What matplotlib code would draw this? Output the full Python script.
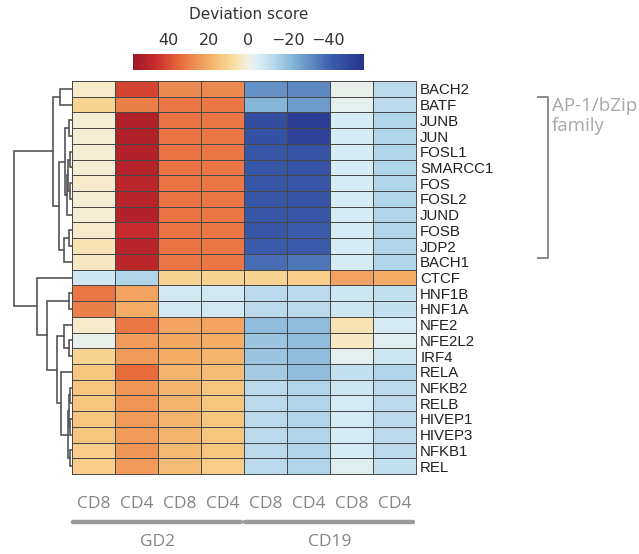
import matplotlib
matplotlib.use("Agg")
import matplotlib.pyplot as plt
import matplotlib.transforms as mtransforms
from matplotlib.colors import Normalize, LinearSegmentedColormap
from matplotlib.cm import ScalarMappable
import numpy as np

# --- data ---
rows = ["BACH2", "BATF", "JUNB", "JUN", "FOSL1", "SMARCC1", "FOS", "FOSL2",
        "JUND", "FOSB", "JDP2", "BACH1", "CTCF", "HNF1B", "HNF1A", "NFE2",
        "NFE2L2", "IRF4", "RELA", "NFKB2", "RELB", "HIVEP1", "HIVEP3",
        "NFKB1", "REL"]
cols = ["CD8", "CD4", "CD8", "CD4", "CD8", "CD4", "CD8", "CD4"]
groups = ["GD2", "CD19"]
group_span = [(0, 4), (4, 8)]

gd2_cd8_a = [3, 10, 2, 2, 2, 2, 3, 2, 2, 3, 5, 4, -8, 32, 30, 3, -2, 10, 14, 14, 14, 14, 14, 12, 12]
gd2_cd4_a = [42, 30, 53, 53, 52, 52, 50, 51, 52, 47, 51, 50, -14, 22, 20, 32, 24, 24, 34, 25, 25, 24, 24, 25, 24]
gd2_cd8_b = [28, 32, 33, 33, 33, 33, 33, 33, 33, 33, 33, 32, 10, -7, -7, 22, 21, 20, 18, 18, 18, 18, 18, 17, 16]
gd2_cd4_b = [28, 32, 32, 32, 32, 32, 32, 32, 32, 32, 32, 32, 10, -7, -7, 22, 20, 18, 16, 14, 14, 14, 14, 14, 12]
cd19_cd8_a = [-30, -22, -48, -46, -44, -44, -44, -44, -44, -44, -42, -38, 10, -12, -12, -20, -18, -18, -16, -12, -12, -12, -12, -12, -12]
cd19_cd4_a = [-32, -28, -54, -52, -45, -45, -44, -45, -44, -42, -42, -36, 12, -12, -12, -20, -20, -20, -20, -14, -14, -14, -14, -14, -14]
cd19_cd8_b = [-2, -3, -6, -6, -6, -6, -6, -6, -6, -6, -6, -6, 22, -8, -8, 5, 4, -3, -10, -8, -6, -6, -6, -6, -4]
cd19_cd4_b = [-12, -12, -14, -14, -14, -14, -14, -14, -14, -14, -14, -14, 20, -10, -10, -6, -4, -8, -14, -12, -12, -12, -12, -12, -10]

# row clustering: (node, left, right, height)
merges = [
    ("a", "BACH2", "BATF", 12), ("b", "JUNB", "JUN", 3),
    ("c", "FOSL1", "SMARCC1", 2), ("d", "FOS", "FOSL2", 2.5),
    ("e", "c", "d", 4), ("f", "e", "JUND", 5), ("g", "b", "f", 7),
    ("h", "FOSB", "JDP2", 3), ("i", "h", "BACH1", 8), ("j", "g", "i", 13),
    ("k", "a", "j", 19), ("l", "HNF1B", "HNF1A", 3), ("m", "NFE2L2", "IRF4", 3),
    ("n", "NFE2", "m", 8), ("o", "NFKB2", "RELB", 2), ("p", "HIVEP1", "HIVEP3", 2),
    ("q", "o", "p", 3), ("r", "NFKB1", "REL", 2), ("s", "q", "r", 4.5),
    ("t", "RELA", "s", 11), ("u", "n", "t", 15), ("v", "l", "u", 25),
    ("w", "CTCF", "v", 35), ("root", "k", "w", 58),
]

values = np.array([gd2_cd8_a, gd2_cd4_a, gd2_cd8_b, gd2_cd4_b,
                   cd19_cd8_a, cd19_cd4_a, cd19_cd8_b, cd19_cd4_b]).T

W, H = 639, 554
fig = plt.figure(figsize=(W / 100, H / 100), dpi=100)

def box(x0, y0, x1, y1):
    return [x0 / W, 1 - y1 / H, (x1 - x0) / W, (y1 - y0) / H]

norm = Normalize(vmin=-58, vmax=58)
cmap = LinearSegmentedColormap.from_list("dev", [
    (0.00, "#27358c"), (0.14, "#3a5cab"), (0.30, "#7fb1d6"), (0.40, "#bcdcec"),
    (0.45, "#d8ecf3"), (0.50, "#f3f2e6"), (0.57, "#f8dd9a"), (0.67, "#f4ae68"),
    (0.80, "#e66a3c"), (0.90, "#c82d2b"), (1.00, "#9e1728")])

# heatmap
ax = fig.add_axes(box(72, 81, 416, 474))
ax.pcolormesh(values, cmap=cmap, norm=norm, edgecolors="#484848", linewidth=0.7)
ax.set_xlim(0, len(cols))
ax.set_ylim(len(rows), 0)
ax.yaxis.tick_right()
ax.set_yticks(np.arange(len(rows)) + 0.5)
ax.set_yticklabels(rows, fontsize=10.8, family="Liberation Sans", color="#222222")
ax.set_xticks(np.arange(len(cols)) + 0.5)
ax.set_xticklabels(cols, fontsize=12.5, family="Open Sans", color="#858585")
ax.tick_params(length=0, pad=3, axis="y")
ax.tick_params(length=0, pad=16, axis="x")
for sp in ax.spines.values():
    sp.set_edgecolor("#484848")
    sp.set_linewidth(0.7)

# group bars under the columns
tr = mtransforms.blended_transform_factory(ax.transData, ax.transAxes)
for name, (c0, c1) in zip(groups, group_span):
    ax.plot([c0 + 0.02, c1 - 0.06], [-0.122, -0.122], transform=tr, color="#9a9a9a",
            lw=3.2, solid_capstyle="round", clip_on=False)
    ax.text((c0 + c1) / 2, -0.173, name, transform=tr, ha="center", va="center",
            fontsize=12.5, family="Open Sans", color="#858585")

# AP-1 bracket
tr2 = mtransforms.blended_transform_factory(ax.transAxes, ax.transData)
ap1 = (1, 11.25)
ax.plot([1.355, 1.384, 1.384, 1.355], [ap1[0], ap1[0], ap1[1], ap1[1]], transform=tr2,
        color="#8a8a8a", lw=1.4, clip_on=False)
ax.text(1.395, 2.25, "AP-1/bZip\nfamily", transform=tr2, ha="left", va="center",
        fontsize=13.5, family="Open Sans", color="#a8a8a8", linespacing=1.15)

# dendrogram
dax = fig.add_axes(box(10, 81, 72, 474))
pos = {r: (i + 0.5, 0.0) for i, r in enumerate(rows)}
for node, left, right, h in merges:
    yl, hl = pos[left]
    yr, hr = pos[right]
    dax.plot([hl, h, h, hr], [yl, yl, yr, yr], color="#555555", lw=1.2,
             solid_joinstyle="miter", clip_on=False)
    pos[node] = ((yl + yr) / 2, h)
dax.set_xlim(62, 0)
dax.set_ylim(len(rows), 0)
dax.axis("off")

# colorbar
cax = fig.add_axes(box(133, 54, 364, 70))
cb = fig.colorbar(ScalarMappable(norm=norm, cmap=cmap), cax=cax, orientation="horizontal")
cb.set_ticks([40, 20, 0, -20, -40])
cb.outline.set_visible(False)
cax.invert_xaxis()
cax.xaxis.set_ticks_position("top")
cax.tick_params(length=0, pad=4, labelsize=11.5, labelcolor="#333333")
cax.text(0.5, 3.45, "Deviation score", transform=cax.transAxes, ha="center",
         va="center", fontsize=11, color="#333333")

fig.savefig("out.png", dpi=100)
